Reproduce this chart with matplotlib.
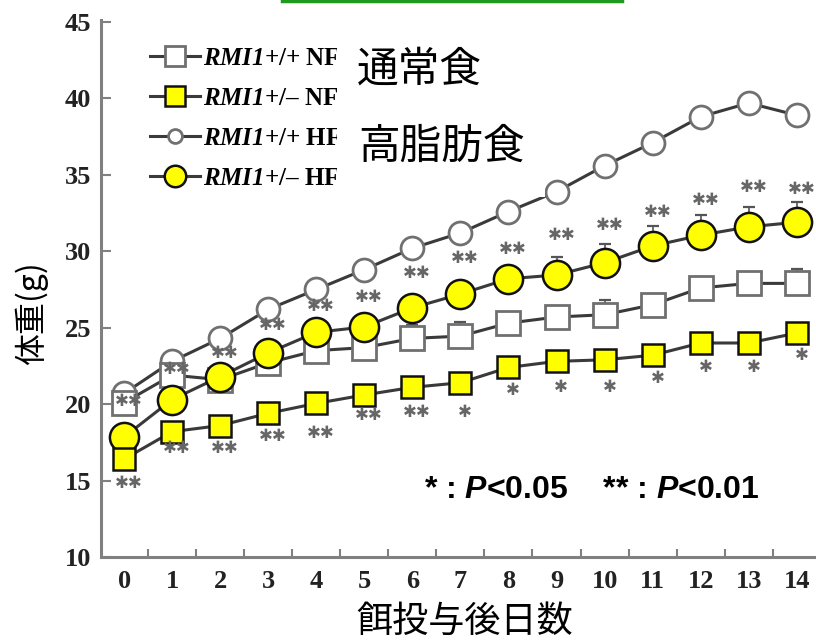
import numpy as np
import matplotlib
matplotlib.use("agg")
import matplotlib.pyplot as plt
from matplotlib.lines import Line2D
from matplotlib.patches import Rectangle

plt.rcParams['mathtext.fontset'] = 'custom'
plt.rcParams['mathtext.bf'] = 'Liberation Serif:italic:bold'
plt.rcParams['mathtext.rm'] = 'Liberation Serif:bold'
plt.rcParams['mathtext.sf'] = 'Liberation Sans:italic:bold'

# days after feeding start
days = np.arange(15)
day_labels = [str(d) for d in days]

# body weight (g)
wt_nf = [20.1, 21.9, 21.6, 22.7, 23.5, 23.7, 24.3, 24.45, 25.3, 25.7, 25.85, 26.5, 27.6, 27.9, 27.9]
het_nf = [16.4, 18.2, 18.6, 19.4, 20.05, 20.6, 21.1, 21.4, 22.4, 22.8, 22.9, 23.2, 24.0, 24.0, 24.65]
wt_hf = [20.7, 22.8, 24.3, 26.2, 27.5, 28.8, 30.2, 31.2, 32.6, 33.9, 35.6, 37.1, 38.8, 39.7, 38.9]
het_hf = [17.85, 20.3, 21.8, 23.35, 24.7, 25.05, 26.3, 27.2, 28.2, 28.45, 29.25, 30.35, 31.05, 31.6, 31.9]

# upper error bars (only the caps poking out of markers are visible)
wt_nf_err = [0.5, 0.5, 0.5, 0.5, 0.9, 0.6, 0.9, 0.9, 0.6, 0.75, 0.95, 0.6, 0.75, 0.6, 0.95]
het_hf_err = [0.5, 0.5, 0.5, 0.5, 0.5, 0.5, 0.5, 0.5, 0.6, 1.15, 1.25, 1.3, 1.3, 1.3, 1.3]

# significance marks
upper_marks = ['✱✱'] * 15
upper_mark_y = [20.2, 22.3, 23.35, 25.2, 26.4, 27.0, 28.6, 29.55, 30.15, 31.05, 31.7, 32.6, 33.35, 34.2, 34.1]
lower_marks = ['✱✱'] * 7 + ['✱'] * 8
lower_mark_y = [14.85, 17.15, 17.15, 17.9, 18.1, 19.3, 19.5, 19.5, 20.9, 21.1, 21.1, 21.7, 22.4, 22.4, 23.2]

labels = [r'$\mathbf{RMI1}$+/+ NF', r'$\mathbf{RMI1}$+/– NF',
          r'$\mathbf{RMI1}$+/+ HF', r'$\mathbf{RMI1}$+/– HF']

W, H = 816, 642
fig = plt.figure(figsize=(W / 100, H / 100), dpi=100)
ax = fig.add_axes([101 / W, 1 - 557 / H, 1 - 101 / W, (557 - 19.7) / H])

line_c = '#3a3a3a'
grey_edge = '#707070'
yellow = '#ffff00'

ax.errorbar(days, wt_nf, yerr=[np.zeros(15), wt_nf_err], fmt='none', ecolor='#555555',
            elinewidth=1.2, capsize=4, capthick=1.6, zorder=1)
ax.errorbar(days, het_hf, yerr=[np.zeros(15), het_hf_err], fmt='none', ecolor='#555555',
            elinewidth=1.2, capsize=4, capthick=1.6, zorder=1)

l_wt_hf, = ax.plot(days, wt_hf, color=line_c, lw=2.2, marker='o', ms=16.5,
                   mfc='white', mec=grey_edge, mew=2.0, zorder=2)
l_wt_nf, = ax.plot(days, wt_nf, color=line_c, lw=2.2, marker='s', ms=17,
                   mfc='white', mec=grey_edge, mew=2.0, zorder=3)
l_het_hf, = ax.plot(days, het_hf, color=line_c, lw=2.2, marker='o', ms=21,
                    mfc=yellow, mec='#111111', mew=1.8, zorder=4)
l_het_nf, = ax.plot(days, het_nf, color=line_c, lw=2.2, marker='s', ms=16.5,
                    mfc=yellow, mec='#111111', mew=1.8, zorder=5)

for d, m, y in zip(days, upper_marks, upper_mark_y):
    ax.text(d + 0.1, y, m, ha='center', va='center', fontsize=12,
            color='#666666', family='DejaVu Sans', zorder=6)
for d, m, y in zip(days, lower_marks, lower_mark_y):
    ax.text(d + 0.1, y, m, ha='center', va='center', fontsize=12,
            color='#666666', family='DejaVu Sans', zorder=6)

ax.set_xlim(-0.48, 14.4)
ax.set_ylim(10, 45.15)
ax.set_xticks(days)
ax.set_xticklabels(day_labels)
ax.set_xticks(np.arange(0.5, 14, 1), minor=True)
ax.set_yticks(np.arange(10, 46, 5))

for s in ['top', 'right']:
    ax.spines[s].set_visible(False)
for s in ['left', 'bottom']:
    ax.spines[s].set_color('#808080')
    ax.spines[s].set_linewidth(2.2)

ax.tick_params(axis='x', which='major', length=0, pad=9)
ax.tick_params(axis='x', which='minor', direction='in', length=6, width=1.5, color='#808080')
ax.tick_params(axis='y', direction='in', length=7, width=1.5, color='#808080', pad=7)
for t in ax.get_xticklabels() + ax.get_yticklabels():
    t.set_family('Liberation Serif')
    t.set_fontweight('bold')
    t.set_fontsize(19)
    t.set_color('#222222')

leg = ax.legend([l_wt_nf, l_het_nf, l_wt_hf, l_het_hf], labels, loc='upper left',
                bbox_to_anchor=(0.068, 0.95), frameon=False, borderpad=0, borderaxespad=0,
                handlelength=2.0, handletextpad=0.15, labelspacing=0.68,
                prop={'family': 'Liberation Serif', 'weight': 'bold', 'size': 18})
for h, ms in zip(leg.legend_handles, [14, 14.5, 10, 15.5]):
    h.set_markersize(ms)
leg.set_zorder(7)

# white box hiding the right part of the legend labels
fig.add_artist(Rectangle((337 / W, 1 - 197 / H), 208 / W, 175 / H, transform=fig.transFigure,
                         facecolor='white', edgecolor='none', zorder=8))

cjk = ['Noto Sans CJK JP', 'DejaVu Sans']
fig.text(357 / W, 1 - 70 / H, '通常食', fontsize=30, family=cjk, va='center', ha='left', zorder=9)
fig.text(358 / W, 1 - 147 / H, '高脂肪食', fontsize=30, family=cjk, va='center', ha='left', zorder=9)
fig.text(31 / W, 1 - 313 / H, '体重(g)', fontsize=23, family=cjk, rotation=90, va='center', ha='center')
fig.text(465 / W, 1 - 622 / H, '餌投与後日数', fontsize=26, family=cjk, va='center', ha='center')

ax.text(0.452, 14.4, r'* : $\mathsf{P}$<0.05    ** : $\mathsf{P}$<0.01', transform=ax.get_yaxis_transform(),
        fontsize=23, family='Liberation Sans', fontweight='bold', va='center', ha='left')

# green frame edge at the top
fig.add_artist(Line2D([282 / W, 622 / W], [1 - 1 / H, 1 - 1 / H], color='#1f9a1f', lw=2.5))

fig.savefig('out.png', dpi=100)
